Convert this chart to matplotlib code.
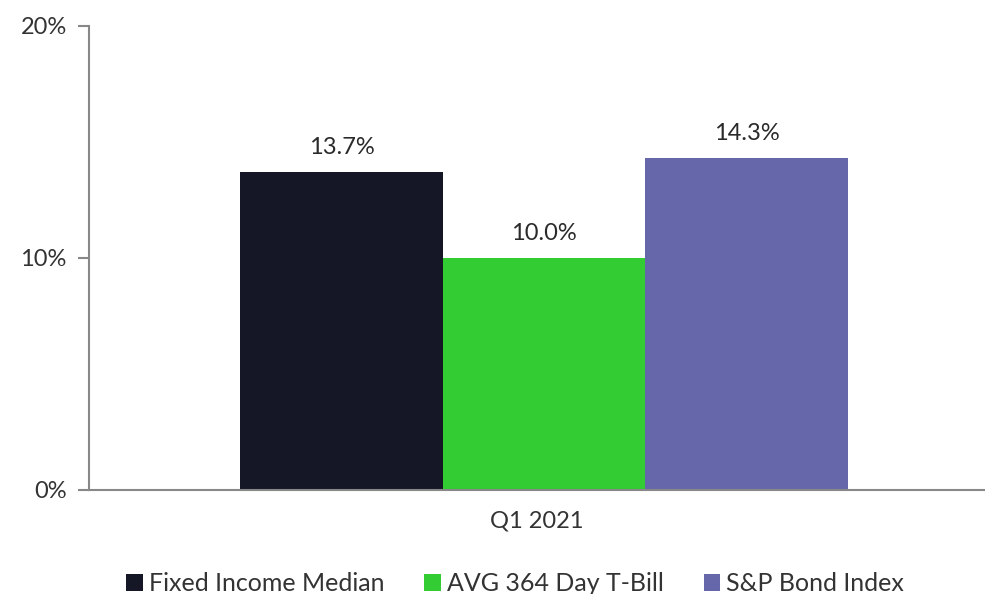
import matplotlib.pyplot as plt
import numpy as np

plt.rcParams['font.family'] = ['Lato', 'DejaVu Sans']

categoria = ['Q1 2021']
series = ['Fixed Income Median', 'AVG 364 Day T-Bill', 'S&P Bond Index']
valores = [13.7, 10.0, 14.3]
colores = ['#151726', '#33cc33', '#6667aa']
yticks = [0, 10, 20]

fig = plt.figure(figsize=(9.85, 5.94), dpi=100)
ax = fig.add_axes([89/985, 1 - 490/594, (985 - 89)/985, (490 - 26)/594])

ancho = 0.226
x = np.arange(len(categoria))
for i, (nombre, v, c) in enumerate(zip(series, valores, colores)):
    pos = x + (i - 1) * ancho + 0.008
    ax.bar(pos, [v], width=ancho, color=c, label=nombre)
    ax.text(pos[0], v + 0.6, f'{v:.1f}%', ha='center', va='bottom',
            fontsize=17, color='#2a2a2a')

ax.set_xlim(-0.5, 0.5)
ax.set_ylim(0, 20)
ax.set_yticks(yticks)
ax.set_yticklabels([f'{t}%' for t in yticks], fontsize=17, color='#333333')
ax.set_xticks(x)
ax.set_xticklabels(categoria, fontsize=17, color='#333333')
ax.tick_params(axis='x', length=0, pad=15)
ax.tick_params(axis='y', length=8, width=1.5, color='#888888', pad=8)

for s in ['top', 'right']:
    ax.spines[s].set_visible(False)
for s in ['left', 'bottom']:
    ax.spines[s].set_color('#888888')
    ax.spines[s].set_linewidth(1.5)

leg = fig.legend(loc='lower center', bbox_to_anchor=(0.523, -0.04), ncol=3, frameon=False,
                 prop={'size': 18}, handlelength=0.65, handleheight=0.65,
                 handletextpad=0.25, columnspacing=1.6)
for t in leg.get_texts():
    t.set_color('#333333')

plt.savefig('out.png', dpi=100)
plt.close()
